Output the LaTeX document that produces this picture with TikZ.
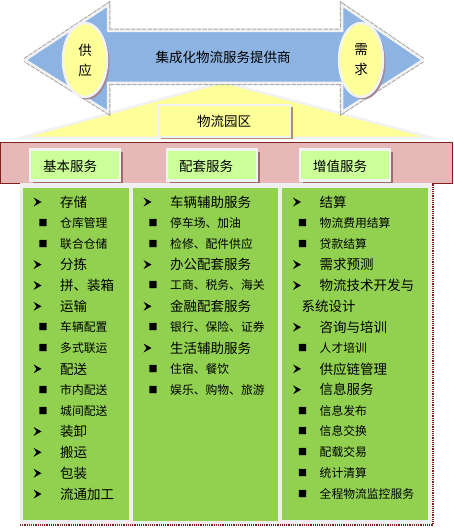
\documentclass[tikz,border=0pt]{standalone}
\usepackage{fontspec}
\newfontfamily\cjk{Noto Sans CJK SC}
\newfontfamily\dejavu{DejaVu Sans}
\usetikzlibrary{shapes.geometric,shadows}
\definecolor{arrowblue}{HTML}{8DB3E2}
\definecolor{paleyellow}{HTML}{FFFF99}
\definecolor{bandpink}{HTML}{E6B9B8}
\definecolor{headgreen}{HTML}{CCFF99}
\definecolor{colgreen}{HTML}{92D050}
\definecolor{edgewhite}{HTML}{F2F2F2}
\definecolor{bggray}{HTML}{EFEFEF}
\definecolor{darkred}{HTML}{7F1F1F}
\definecolor{ellshadow}{HTML}{A08898}
\definecolor{boxshadow}{HTML}{B0906A}
\definecolor{headshadow}{HTML}{A06A6A}
\begin{document}
\begin{tikzpicture}[x=1pt,y=-1pt,
  big/.style={font=\cjk\fontsize{13.5}{20}\selectfont},
  small/.style={font=\cjk\fontsize{11.8}{14}\selectfont},
  ell/.style={ellipse,draw=edgewhite,line width=2.5pt,fill=paleyellow,minimum width=44pt,minimum height=74pt,inner sep=0pt,align=center,big,
    drop shadow={shadow xshift=2.5pt,shadow yshift=-2.5pt,fill=ellshadow,opacity=1}},
  parkbox/.style={draw=edgewhite,line width=2.5pt,fill=paleyellow,minimum width=132pt,minimum height=32pt,inner sep=0pt,big,
    drop shadow={shadow xshift=2.5pt,shadow yshift=-2.5pt,fill=boxshadow,opacity=1}},
  headbox/.style={draw=edgewhite,line width=2.5pt,fill=headgreen,minimum width=90pt,minimum height=31pt,inner sep=0pt,
    drop shadow={shadow xshift=2.5pt,shadow yshift=-2.5pt,fill=headshadow,opacity=1}},
  headtext/.style={big,anchor=west,inner sep=0pt},
  b1/.style={inner sep=0pt,minimum width=8pt,minimum height=9pt,xshift=14.5pt,
    path picture={\fill[black] (path picture bounding box.north west) -- (path picture bounding box.east)
      -- (path picture bounding box.south west) -- ([xshift=3pt]path picture bounding box.west) -- cycle;}},
  b2/.style={font=\dejavu\fontsize{9.5}{10}\selectfont,inner sep=0pt,xshift=20pt},
  l1/.style={big,anchor=west,inner sep=0pt,xshift=37pt},
  l2/.style={small,anchor=west,inner sep=0pt,xshift=37pt},
  l0/.style={big,anchor=west,inner sep=0pt,xshift=19pt}
]
\useasboundingbox (0,0) rectangle (453,529);

% triangle behind the arrow
\filldraw[fill=paleyellow,draw=edgewhite,line width=2.5pt] (20,138) -- (223,82) -- (433,138) -- cycle;

% double arrow
\draw[gray!70,densely dotted,line width=4.5pt,line join=miter]
  (25,60) -- (108,5) -- (108,31) -- (342,31) -- (342,5) -- (423,60) -- (342,112) -- (342,83) -- (108,83) -- (108,112) -- cycle;
\filldraw[fill=arrowblue,draw=edgewhite,line width=2.5pt,line join=miter]
  (25,60) -- (108,5) -- (108,31) -- (342,31) -- (342,5) -- (423,60) -- (342,112) -- (342,83) -- (108,83) -- (108,112) -- cycle;
\node[big] (title) at (223,57) {集成化物流服务提供商};

\node[ell] (supply) at (85,60) {供\\应};
\node[ell] (demand) at (361,60) {需\\求};

\node[parkbox] (park) at (224,121) {物流园区};

% pink band
\filldraw[fill=bandpink,draw=darkred,line width=0.8pt] (0.5,142) rectangle (452,183);

% gray area and columns
\fill[bggray] (20,183) rectangle (433,524);
\draw[darkred,densely dotted,line width=1.2pt] (20,525) -- (433,525) -- (433,183);
\fill[colgreen] (23,188) rectangle (129,520);
\fill[colgreen] (133,188) rectangle (278,521);
\fill[colgreen] (282,188) rectangle (428,520);

% header boxes
\node[headbox] (h1) at (75,165) {};
\node[headbox] (h2) at (212,165) {};
\node[headbox] (h3) at (345,165) {};
\node[headtext] (h1t) at (43,166) {基本服务};
\node[headtext] (h2t) at (179,166) {配套服务};
\node[headtext] (h3t) at (313,166) {增值服务};

% column 1
\foreach \k/\t [count=\i] in {1/存储,2/仓库管理,2/联合仓储,1/分拣,1/拼、装箱,1/运输,2/车辆配置,2/多式联运,1/配送,2/市内配送,2/城间配送,1/装卸,1/搬运,1/包装,1/流通加工}{
  \pgfmathsetmacro\yy{202+(\i-1)*20.86}
  \ifnum\k=1 \node[b1] (c1b\i) at (23,\yy) {};\fi
  \ifnum\k=2 \node[b2] (c1b\i) at (23,\yy) {■};\fi
  \node[l\k] (c1t\i) at (23,\yy) {\t};
}
% column 2
\foreach \k/\t [count=\i] in {1/车辆辅助服务,2/停车场、加油,2/检修、配件供应,1/办公配套服务,2/工商、税务、海关,1/金融配套服务,2/银行、保险、证券,1/生活辅助服务,2/住宿、餐饮,2/娱乐、购物、旅游}{
  \pgfmathsetmacro\yy{202+(\i-1)*20.86}
  \ifnum\k=1 \node[b1] (c2b\i) at (133,\yy) {};\fi
  \ifnum\k=2 \node[b2] (c2b\i) at (133,\yy) {■};\fi
  \node[l\k] (c2t\i) at (133,\yy) {\t};
}
% column 3
\foreach \k/\t [count=\i] in {1/结算,2/物流费用结算,2/贷款结算,1/需求预测,1/物流技术开发与,0/系统设计,1/咨询与培训,2/人才培训,1/供应链管理,1/信息服务,2/信息发布,2/信息交换,2/配载交易,2/统计清算,2/全程物流监控服务}{
  \pgfmathsetmacro\yy{202+(\i-1)*20.86}
  \ifnum\k=1 \node[b1] (c3b\i) at (282.5,\yy) {};\fi
  \ifnum\k=2 \node[b2] (c3b\i) at (282.5,\yy) {■};\fi
  \node[l\k] (c3t\i) at (282.5,\yy) {\t};
}
\end{tikzpicture}
\end{document}
